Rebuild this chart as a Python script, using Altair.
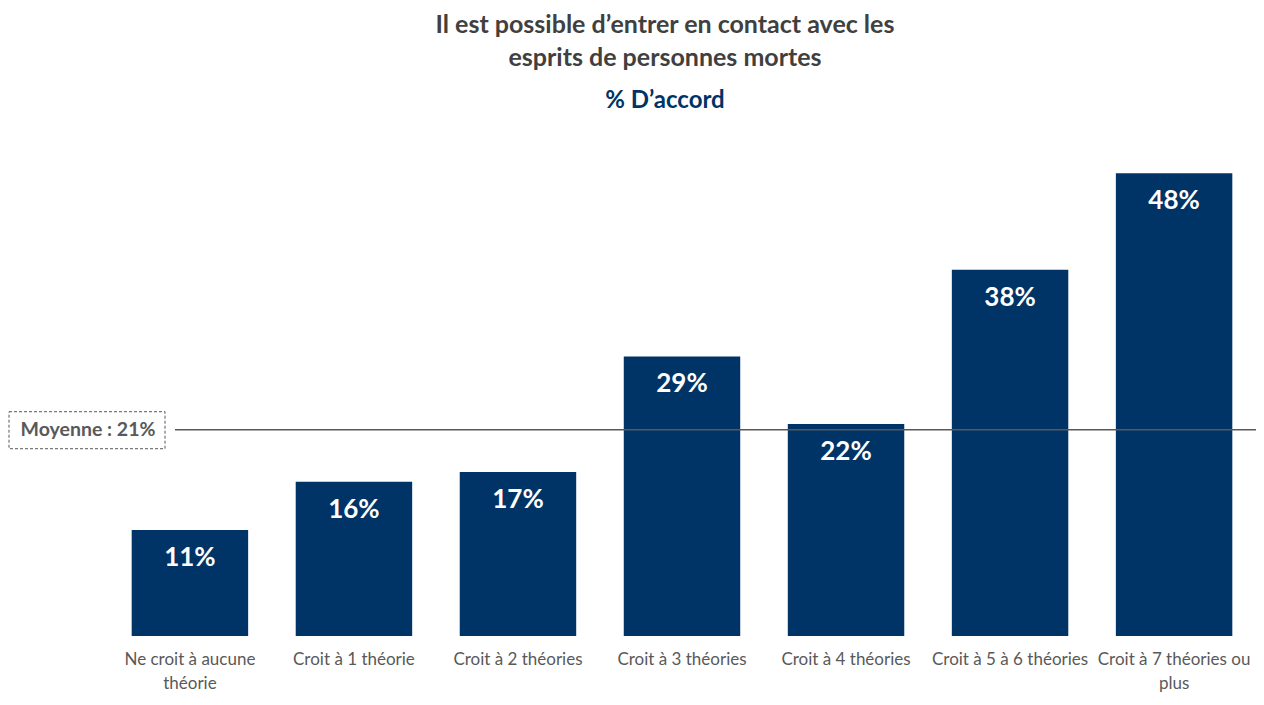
import altair as alt
import pandas as pd

categories = [
    "Ne croit à aucune|théorie",
    "Croit à 1 théorie",
    "Croit à 2 théories",
    "Croit à 3 théories",
    "Croit à 4 théories",
    "Croit à 5 à 6 théories",
    "Croit à 7 théories ou|plus",
]
values = [11, 16, 17, 29, 22, 38, 48]
mean_value = 21.4
mean_label = "Moyenne : 21%"

df = pd.DataFrame({"cat": categories, "val": values})
df["lab"] = [f"{v}%" for v in values]

FONT = "Lato"
BAR = "#003366"
GREY = "#595959"

x = alt.X(
    "cat:N",
    sort=categories,
    title=None,
    scale=alt.Scale(paddingInner=0.29, paddingOuter=0.12),
    axis=alt.Axis(
        labelAngle=0,
        labelExpr="split(datum.label, '|')",
        labelFont=FONT,
        labelFontSize=17,
        labelColor=GREY,
        labelPadding=15,
        labelLineHeight=24,
        labelLimit=220,
        ticks=False,
        domain=False,
        grid=False,
    ),
)
y = alt.Y("val:Q", scale=alt.Scale(domain=[0, 50]), axis=None)

base = alt.Chart(df)

bars = base.mark_bar(color=BAR).encode(x=x, y=y)
labels = base.mark_text(
    font=FONT, fontSize=26, fontWeight="bold", color="white", baseline="middle", dy=28
).encode(x=x, y=y, text="lab:N")

mdf = pd.DataFrame({"m": [mean_value], "t": [mean_label]})
mbase = alt.Chart(mdf)
rule = mbase.mark_rule(color=GREY, strokeWidth=1.5).encode(
    y=alt.Y("m:Q"), x=alt.value(63), x2=alt.value(1144)
)
box = mbase.mark_rect(
    fill="white", stroke=GREY, strokeDash=[3, 2], strokeWidth=1, yOffset=-18, y2Offset=19
).encode(y=alt.Y("m:Q"), y2=alt.Y2("m"), x=alt.value(-103), x2=alt.value(53))
mtext = mbase.mark_text(
    font=FONT, fontSize=19.5, fontWeight="bold", color=GREY, baseline="middle", align="center"
).encode(y=alt.Y("m:Q"), x=alt.value(-24), text="t:N")

chart = (
    alt.layer(bars, labels, rule, box, mtext)
    .properties(
        width=1140,
        height=482,
        padding={"left": 104, "top": 146, "right": 4, "bottom": 60},
        autosize=alt.AutoSizeParams(type="none"),
        title=alt.TitleParams(
            text=["Il est possible d’entrer en contact avec les", "esprits de personnes mortes"],
            subtitle="% D’accord",
            font=FONT,
            fontSize=25,
            fontWeight="bold",
            color="#404040",
            lineHeight=33,
            subtitleFont=FONT,
            subtitleFontSize=24,
            subtitleFontWeight="bold",
            subtitleColor=BAR,
            subtitlePadding=18,
            anchor="middle",
            dx=-17,
            offset=41,
        ),
    )
    .configure_view(stroke=None)
)

chart.save("out.html", embed_options={"renderer": "svg", "actions": False})
